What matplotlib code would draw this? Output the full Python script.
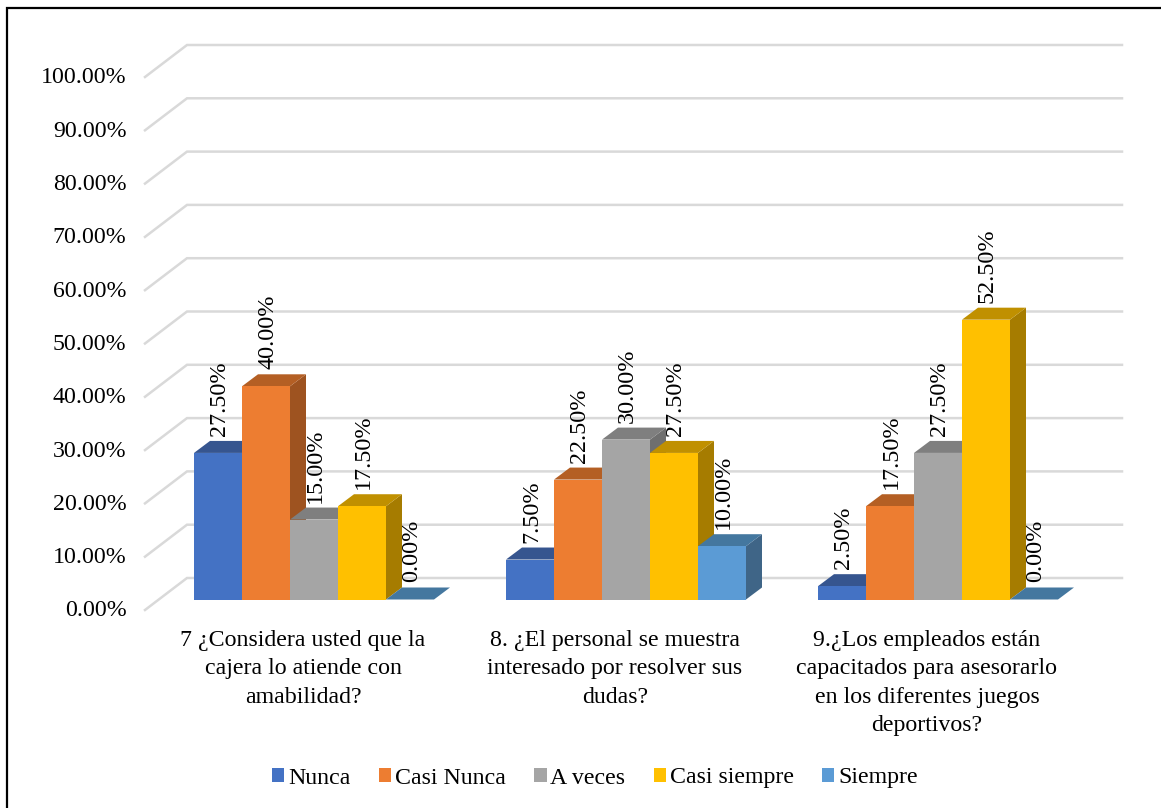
import matplotlib
matplotlib.use("Agg")
import matplotlib.pyplot as plt
from matplotlib.patches import Patch, Polygon

categories = ["7 ¿Considera usted que la\ncajera lo atiende con\namabilidad?",
              "8. ¿El personal se muestra\ninteresado por resolver sus\ndudas?",
              "9.¿Los empleados están\ncapacitados para asesorarlo\nen los diferentes juegos\ndeportivos?"]
series_names = ["Nunca", "Casi Nunca", "A veces", "Casi siempre", "Siempre"]
nunca = [27.5, 7.5, 2.5]
casi_nunca = [40.0, 22.5, 17.5]
a_veces = [15.0, 30.0, 27.5]
casi_siempre = [17.5, 27.5, 52.5]
siempre = [0.0, 10.0, 0.0]
y_ticks = [0, 10, 20, 30, 40, 50, 60, 70, 80, 90, 100]

front_colors = ["#4472C4", "#ED7D31", "#A5A5A5", "#FFC000", "#5B9BD5"]
top_colors = ["#36558F", "#B45F24", "#7F7F7F", "#C09000", "#44779F"]
side_colors = ["#2F4B80", "#9E5320", "#6F6F6F", "#A67C00", "#3F6587"]

W, H = 1161, 808
GROUP_PX = 312.0   # px between groups
PCT_PX = 5.33      # px per percent
X0_PX, Y0_PX = 314.0, 599.5

plt.rcParams["font.family"] = ["Liberation Serif", "DejaVu Serif"]
fig = plt.figure(figsize=(W / 100, H / 100), dpi=100)
ax = fig.add_axes([0, 0, 1, 1])
ax.set_xlim(-X0_PX / GROUP_PX, (W - X0_PX) / GROUP_PX)
ax.set_ylim((Y0_PX - H) / PCT_PX, Y0_PX / PCT_PX)
ax.axis("off")

def px_x(n):
    return n / GROUP_PX

def px_y(n):
    return n / PCT_PX

# gridlines: slanted side wall then the back wall
wall_x = [px_x(145 - X0_PX), px_x(187 - X0_PX), px_x(1122 - X0_PX)]
for t in y_ticks:
    ys = [t - px_y(10.5), t + px_y(21.5), t + px_y(21.5)]
    ax.plot(wall_x, ys, color="#D9D9D9", lw=1.8, solid_joinstyle="miter", zorder=1)
    ax.text(px_x(126.5 - X0_PX), t - px_y(11.5), f"{t:.2f}%", ha="right", va="center",
            fontsize=17.2, color="black")

# 3D bars, painted left to right so each front covers the previous side
bar_w = px_x(48)
dx = px_x(16)
dy = px_y(12)
all_series = [nunca, casi_nunca, a_veces, casi_siempre, siempre]
z = 2
for g in range(len(categories)):
    for s, values in enumerate(all_series):
        v = values[g]
        left = g + (s - 2.5) * bar_w
        right = left + bar_w
        ax.add_patch(Polygon([(right, 0), (right + dx, dy), (right + dx, v + dy), (right, v)],
                             facecolor=side_colors[s], edgecolor="none", zorder=z))
        ax.add_patch(Polygon([(left, v), (left + dx, v + dy), (right + dx, v + dy), (right, v)],
                             facecolor=top_colors[s], edgecolor="none", zorder=z))
        ax.bar(left, v, width=bar_w, align="edge", color=front_colors[s], zorder=z)
        z += 1

# value labels go on top of every bar
for g in range(len(categories)):
    for s, values in enumerate(all_series):
        v = values[g]
        cx = g + (s - 2) * bar_w + px_x(1.5)
        ax.text(cx, v + dy + px_y(5), f"{v:.2f}%", rotation=90, ha="center", va="bottom",
                fontsize=17.4, color="black", zorder=50)

for g, label in enumerate(categories):
    ax.text(g - px_x(11), px_y(Y0_PX - 630), label, ha="center", va="top", fontsize=17.2,
            linespacing=1.46, color="black")

handles = [Patch(facecolor=c, label=n) for c, n in zip(front_colors, series_names)]
ax.legend(handles=handles, loc="center", bbox_to_anchor=(595 / W, 1 - 778 / H),
          bbox_transform=fig.transFigure, ncol=5, frameon=False, fontsize=17.2,
          handlelength=0.52, handleheight=0.52, handletextpad=0.16, columnspacing=1.18,
          borderpad=0)

# outer frame of the chart
fig.add_artist(plt.Rectangle((7 / W, -5 / H), (W + 5) / W, (H - 3) / H, fill=False,
                             edgecolor="black", lw=1.6, transform=fig.transFigure))

fig.savefig("out.png", dpi=100, facecolor="white")
